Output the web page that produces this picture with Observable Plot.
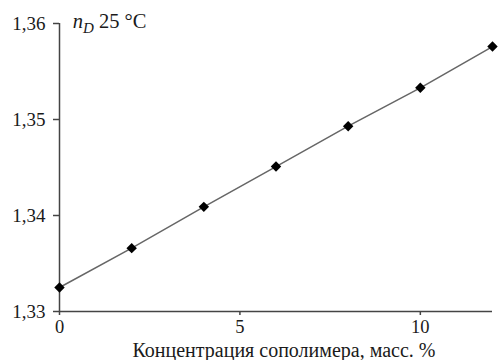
<!DOCTYPE html>
<html><head><meta charset="utf-8">
<script src="https://cdn.jsdelivr.net/npm/d3@7"></script>
<script src="https://cdn.jsdelivr.net/npm/@observablehq/plot@0.6"></script>
<style>
body{margin:0;background:#fff}
svg, svg text, svg g { font-family: "Liberation Serif", "Times New Roman", Times, "DejaVu Serif", serif !important; }
</style>
</head><body><div id="chart"></div>
<script>
const concentration = [0, 2, 4, 6, 8, 10, 12];
const refractiveIndex = [1.3325, 1.3366, 1.3409, 1.3451, 1.3493, 1.3533, 1.3576];
const xTicks = [0, 5, 10];
const yTicks = [1.33, 1.34, 1.35, 1.36];
const xLabel = "Концентрация сополимера, масс. %";
const yLabelMain = "n";
const yLabelSub = "D";
const yLabelRest = " 25 °C";

const data = concentration.map((c, i) => ({c, n: refractiveIndex[i]}));
const fmt = d => d.toFixed(2).replace(".", ",");
const serif = "Liberation Serif, Times New Roman, serif";

const chart = Plot.plot({
  width: 500, height: 360,
  marginLeft: 59, marginRight: 8, marginTop: 23, marginBottom: 49,
  style: {fontFamily: serif, fontSize: "19px", color: "#1a1a1a", background: "#fff"},
  x: {domain: [0, 12]},
  y: {domain: [1.33, 1.36]},
  marks: [
    Plot.axisX({ticks: xTicks, tickSize: 4, tickFormat: d => String(d), label: null, tickPadding: 4, stroke: "#444", strokeWidth: 1.5, fontSize: 18.5}),
    Plot.axisY({ticks: yTicks, tickSize: 6, tickFormat: fmt, label: null, tickPadding: 8, stroke: "#444", strokeWidth: 1.5, fontSize: 19}),
    Plot.ruleY([1.33], {stroke: "#444", strokeWidth: 1.5}),
    Plot.ruleX([0], {stroke: "#444", strokeWidth: 1.5}),
    Plot.line(data, {x: "c", y: "n", stroke: "#666", strokeWidth: 1.5}),
    Plot.dot(data, {x: "c", y: "n", symbol: "diamond2", r: 4.7, fill: "#000", stroke: "none"}),
    Plot.text([xLabel], {frameAnchor: "bottom", dy: 45, dx: 8, lineAnchor: "bottom", fontSize: 20, fill: "#1a1a1a"})
  ]
});
document.getElementById("chart").appendChild(chart);

const xs = chart.scale("x"), ys = chart.scale("y");
const t = d3.select(chart).append("text")
  .attr("x", xs.apply(0.38)).attr("y", ys.apply(1.36) + 5)
  .attr("text-anchor", "start")
  .attr("font-size", 20.5).attr("fill", "#1a1a1a");
t.append("tspan").attr("font-style", "italic").text(yLabelMain);
t.append("tspan").attr("font-style", "italic").attr("font-size", 15).attr("dy", 5).text(yLabelSub);
t.append("tspan").attr("dy", -5).text(yLabelRest);
</script>
</body></html>
